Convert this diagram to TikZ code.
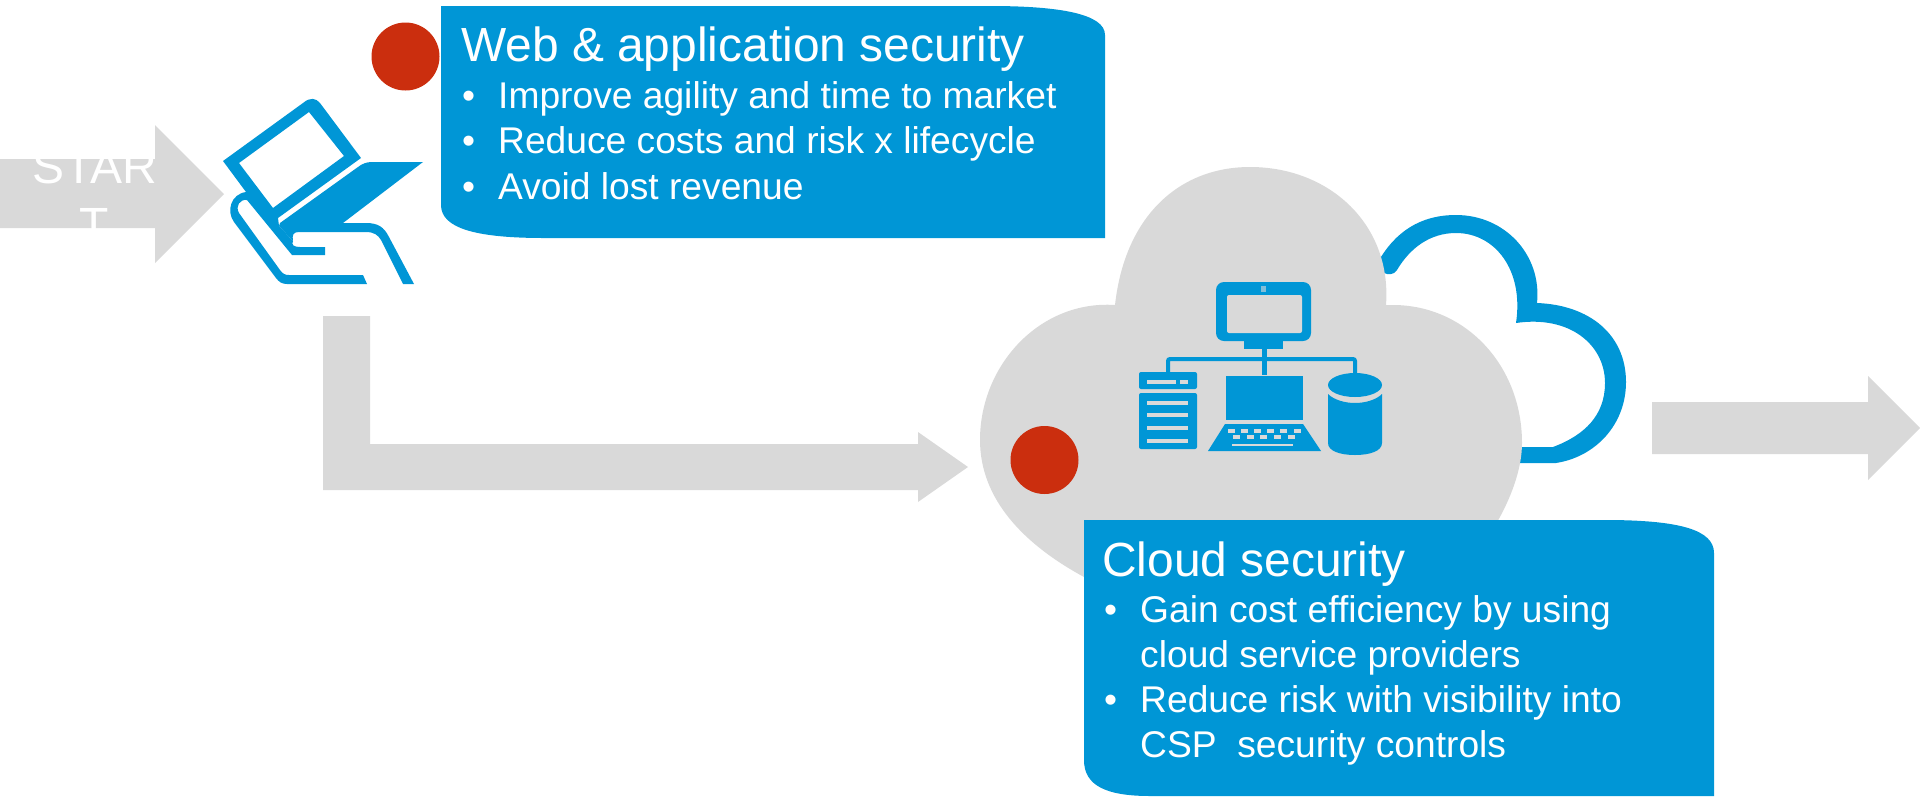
\documentclass[tikz,border=0pt]{standalone}
\usepackage{fontspec}
\setmainfont{Liberation Sans}
\definecolor{hpblue}{HTML}{0096D6}
\definecolor{gr}{HTML}{D9D9D9}
\definecolor{redd}{HTML}{CB2E0E}
\tikzset{
  ttl/.style={anchor=base west,inner sep=0pt,text=white,font=\fontsize{47.9}{48}\selectfont},
  itm/.style={anchor=base west,inner sep=0pt,text=white,font=\fontsize{37.2}{38}\selectfont},
  blue/.style={fill=hpblue,draw=none},
  grey/.style={fill=gr,draw=none},
  dotred/.style={circle,fill=redd,draw=none,minimum size=68pt,inner sep=0pt},
  holes/.style={fill=gr,draw=none}
}
\begin{document}
\begin{tikzpicture}[x=1pt,y=-1pt]
\useasboundingbox (0,0) rectangle (1920,796);
% grey arrows
\fill[grey] (0,159) -- (155,159) -- (155,125) -- (224,194) -- (155,263) -- (155,228) -- (0,228) -- cycle;
\fill[grey] (323,316) -- (370,316) -- (370,444) -- (918,444) -- (918,432) -- (968,467) -- (918,502) -- (918,490) -- (323,490) -- cycle;
\fill[grey] (1652,402) -- (1868,402) -- (1868,376) -- (1920,428) -- (1868,480) -- (1868,454) -- (1652,454) -- cycle;
\node[anchor=base,inner sep=0pt,text=white,font=\fontsize{48}{48}\selectfont] (startA) at (95,183) {STAR};
\node[anchor=base,inner sep=0pt,text=white,font=\fontsize{48}{48}\selectfont] (startB) at (94,241) {T};
% tablet and hand icon
\fill[blue,even odd rule] (223,161) -- (303,103) .. controls (310,97) and (316,98) .. (320,103) -- (361,158) -- (278,218) -- (279,226) -- (293,241)
  .. controls (291,245) and (294,247) .. (300,247) -- (325,247) -- (325,255) -- (292,255) -- (247,200) .. controls (240,199) and (235,206) .. (239,213)
  -- (280,270) .. controls (283,274) and (285,275) .. (289,275) -- (363,275) -- (367,284) -- (287,284) .. controls (282,284) and (279,282) .. (276,278)
  -- (234,222) .. controls (226,211) and (231,194) .. (246,192) -- cycle
  (239,163) -- (309,112) -- (344,156) -- (273,208) -- cycle;
\fill[blue] (423,162) -- (372,162) .. controls (366,162) and (362,164) .. (358,167) -- (280,223) -- (279,226) -- (293,241) .. controls (292,235) and (293,232) .. (299,232)
  -- (366,232) .. controls (374,232) and (378,235) .. (381,240) -- (403,284) -- (414,284) -- (389,237) .. controls (384,227) and (378,223) .. (366,223) -- (343,223) -- cycle;
% blue cloud outline
\fill[blue] (1378,262) .. controls (1395,232) and (1420,215) .. (1456,215) .. controls (1505,215) and (1542,255) .. (1537,303)
  .. controls (1590,305) and (1626,335) .. (1626,382) .. controls (1626,425) and (1595,457) .. (1556,463) -- (1510,463) -- (1510,447) -- (1553,447)
  .. controls (1585,435) and (1605,415) .. (1605,383) .. controls (1605,345) and (1570,315) .. (1516,323)
  .. controls (1524,270) and (1495,233) .. (1456,233) .. controls (1430,233) and (1410,248) .. (1397,270)
  .. controls (1394,275) and (1388,275) .. (1384,273) -- cycle;
% grey cloud
\fill[grey] (1115,305) .. controls (1125,215) and (1180,167) .. (1250,167) .. controls (1330,167) and (1392,225) .. (1386,305)
  -- (1393,305) .. controls (1465,305) and (1522,365) .. (1522,443) .. controls (1522,470) and (1510,500) .. (1496,524)
  -- (1300,620) -- (1084,577) .. controls (1025,545) and (980,500) .. (980,440) .. controls (980,365) and (1040,300) .. (1115,305) -- cycle;
% network icon: monitor
\fill[blue,rounded corners=8pt] (1216,282) rectangle (1311,341);
\fill[holes,rounded corners=2pt] (1227,295) rectangle (1302,333);
\fill[gr!60!hpblue] (1261,286) rectangle (1266,292);
\fill[blue] (1244,341) rectangle (1283,349);
\fill[blue] (1262,349) rectangle (1267,375);
\draw[hpblue,line width=4pt,rounded corners=2pt] (1168,373) -- (1168,359) -- (1355,359) -- (1355,374);
% server
\fill[blue,rounded corners=2pt] (1139,372) -- (1197,372) -- (1197,389) -- (1139,389) -- cycle;
\fill[blue,rounded corners=2pt] (1139,393) -- (1197,393) -- (1197,449) -- (1139,449) -- cycle;
\fill[holes] (1147,380) rectangle (1176,384);
\fill[holes] (1180,380) rectangle (1188,384);
\foreach \yy in {403,415,428,441}{\fill[holes] (1147,\yy-2) rectangle (1188,\yy+2);}
% laptop
\fill[blue] (1226,376) rectangle (1303,420);
\fill[blue] (1208,451) -- (1321,451) -- (1303,424) -- (1225,424) -- cycle;
\foreach \xx in {1231,1244,1257,1270,1283,1297}{\fill[holes] (\xx-3.5,429) rectangle (\xx+3.5,433);}
\foreach \xx in {1236,1250,1263,1277,1291}{\fill[holes] (\xx-3.5,435) rectangle (\xx+3.5,439);}
\fill[holes] (1232,444) rectangle (1293,446);
% database
\fill[blue] (1355,385) ellipse [x radius=27pt,y radius=12pt];
\fill[blue] (1328,394) .. controls (1334,400) and (1345,403) .. (1355,403) .. controls (1365,403) and (1376,400) .. (1382,394)
  -- (1382,443) .. controls (1382,451) and (1370,455) .. (1355,455) .. controls (1340,455) and (1328,451) .. (1328,443) -- cycle;
% red dots
\node[dotred] (dotA) at (405.5,56.5) {};
\node[dotred] (dotB) at (1044.5,460) {};
% box 1
\fill[blue] (441,6) -- (990,6) .. controls (1060,6) and (1105,14) .. (1105,35) -- (1105,238) -- (544,238) .. controls (475,238) and (441,228) .. (441,205) -- cycle;
\node[ttl] (t1) at (461,61) {Web \& application security};
\node[itm] (b1a) at (462,108) {•};
\node[itm] (i1a) at (498,108) {Improve agility and time to market};
\node[itm] (b1b) at (462,153) {•};
\node[itm] (i1b) at (498,153) {Reduce costs and risk x lifecycle};
\node[itm] (b1c) at (462,199) {•};
\node[itm] (i1c) at (498,199) {Avoid lost revenue};
% box 2
\fill[blue] (1084,520) -- (1605,520) .. controls (1680,520) and (1714,530) .. (1714,553) -- (1714,796) -- (1150,796) .. controls (1105,796) and (1084,785) .. (1084,760) -- cycle;
\node[ttl] (t2) at (1102,576) {Cloud security};
\node[itm] (b2a) at (1104,622) {•};
\node[itm] (i2a) at (1140,622) {Gain cost efficiency by using};
\node[itm] (i2b) at (1140,667) {cloud service providers};
\node[itm] (b2b) at (1104,712) {•};
\node[itm] (i2c) at (1140,712) {Reduce risk with visibility into};
\node[itm] (i2d) at (1140,757) {CSP\ \ security controls};
\end{tikzpicture}
\end{document}
